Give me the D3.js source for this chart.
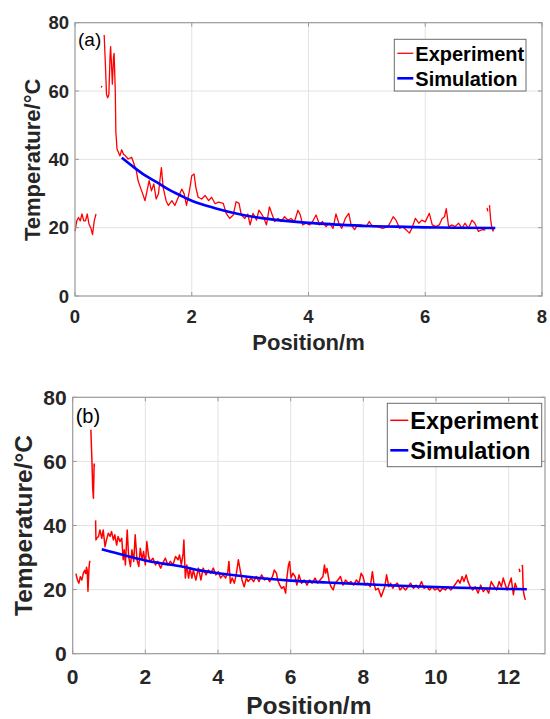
<!DOCTYPE html>
<html lang="en">
<head>
<meta charset="UTF-8">
<title>Temperature vs position</title>
<style>
  body { margin: 0; background: #fff; }
  svg { display: block; }
  .tick-label { font-family: "Liberation Sans", Arial, sans-serif; font-weight: bold; fill: #262626; }
  .axis-title { font-family: "Liberation Sans", Arial, sans-serif; font-weight: bold; fill: #262626; }
  .panel-tag { font-family: "Liberation Sans", Arial, sans-serif; fill: #000; }
  .legend-text { font-family: "Liberation Sans", Arial, sans-serif; font-weight: bold; fill: #000; }
</style>
</head>
<body>
<div id="chart"></div>
<script src="https://d3js.org/d3.v7.min.js"></script>
<script>
// ---- data ----
const yTicks = [0, 20, 40, 60, 80];
const xTicksA = [0, 2, 4, 6, 8];
const xTicksB = [0, 2, 4, 6, 8, 10, 12];
const seriesNames = ["Experiment", "Simulation"];

// panel (a) experiment, null = gap in the record
const expAx = [0, 0.03, 0.06, 0.09, 0.12, 0.15, 0.18, 0.21, 0.24, 0.27, 0.30, 0.33, 0.36, 0.40,
  0.45, 0.46, 0.48,
  0.50, 0.52, 0.54, 0.56, 0.58, 0.60, 0.61, 0.63, 0.64, 0.66, 0.67, 0.69, 0.70, 0.72, 0.74, 0.77, 0.80, 0.83, 0.86, 0.91, 0.97,
  1.01, 1.05, 1.08, 1.12, 1.16, 1.20, 1.24, 1.27, 1.31, 1.35, 1.39, 1.43, 1.46, 1.48, 1.51, 1.56, 1.60, 1.66, 1.71, 1.77,
  1.83, 1.87, 1.91, 1.96, 2.00, 2.04, 2.07, 2.11, 2.17, 2.23, 2.29, 2.34, 2.40, 2.46,
  2.54, 2.59, 2.65, 2.71, 2.76, 2.81, 2.85, 2.91, 2.96, 3.00, 3.05, 3.11, 3.15, 3.19, 3.24, 3.28, 3.33, 3.38, 3.42, 3.48,
  3.53, 3.59, 3.65, 3.70, 3.76, 3.82, 3.86, 3.90, 3.96, 4.02, 4.07, 4.13, 4.19, 4.24, 4.30, 4.36, 4.42, 4.47, 4.52, 4.57,
  4.63, 4.69, 4.73, 4.79, 4.84, 4.90, 4.99, 5.04, 5.10, 5.18,
  5.27, 5.36, 5.41, 5.45, 5.50, 5.56, 5.61, 5.67, 5.73, 5.77, 5.83, 5.89, 5.94, 6.00, 6.07, 6.12, 6.18, 6.24, 6.29, 6.33,
  6.36, 6.40, 6.46, 6.51, 6.57, 6.63, 6.68, 6.74, 6.80, 6.85, 6.91, 6.97, 7.03, 7.05,
  7.06, 7.07, 7.08, 7.10, 7.12, 7.14, 7.16, 7.18];
const expAt = [19, 22, 23, 22, 24, 22, 22, 24, 21, 20, 18, 22, 24, null,
  61, 61.5, null,
  76.4, 68, 59, 58, 59, 70, 73, 66, 62, 70, 71, 60, 48, 43, 42.2, 41, 42.8, 41.5, 41.1, 40.1, 40.6,
  38.7, 36.7, 33.8, 31.8, 29.9, 27.9, 31.3, 33.8, 30.8, 32.8, 28.4, 29.9, 34.7, 37.6, 31.8, 27.9, 26.5, 27.9, 26.5, 28.9,
  31.3, 29.9, 26.5, 30.8, 35.2, 35.7, 31.8, 28.9, 28.4, 29.4, 27.9, 28.9, 27.0, 27.5,
  27.1, 24.2, 22.7, 23.7, 27.6, 27.1, 23.7, 22.7, 24.0, 20.8, 24.2, 22.2, 25.1, 24.2, 22.7, 20.8, 26.1, 23.7, 21.8, 22.7,
  21.8, 23.2, 22.2, 22.7, 21.8, 25.1, 23.7, 20.8, 21.3, 20.8, 21.8, 23.7, 20.8, 21.8, 20.3, 21.3, 19.8, 24.0, 21.3, 19.8,
  22.7, 24.2, 20.8, 19.4, 20.8, 20.8, 20.3, 21.8, 20.3, 20.3,
  19.8, 20.3, 21.8, 23.2, 22.2, 19.8, 20.3, 19.4, 18.4, 19.8, 22.7, 21.3, 22.2, 21.7, 24.2, 20.8, 20.3, 20.8, 22.7, 23.2,
  25.6, 20.3, 20.8, 20.3, 21.3, 19.8, 21.3, 19.8, 22.2, 21.3, 18.9, 19.4, 19.4, null,
  25.8, 24.8, null, 26.6, 22.5, 20.0, 19.0, 20.2];

const simAx = [0.8, 1.0, 1.2, 1.4, 1.6, 1.8, 2.0, 2.4, 2.8, 3.2, 3.6, 4.0, 4.5, 5.0, 5.5, 6.0, 6.5, 7.2];
const simAt = [40.5, 37.8, 35.3, 33.3, 31.2, 29.5, 27.9, 25.7, 24.0, 22.8, 22.0, 21.4, 20.9, 20.5, 20.3, 20.1, 20.0, 19.9];

// panel (b) experiment
const expBx = [0.09, 0.13, 0.17, 0.21, 0.25, 0.29, 0.33, 0.36, 0.38, 0.40, 0.42, 0.45, 0.47, 0.48,
  0.50, 0.53, 0.55, 0.57, 0.59, 0.60, 0.61,
  0.63, 0.64, 0.66, 0.71, 0.75, 0.80, 0.84, 0.89, 0.93, 0.98, 1.03, 1.07, 1.12, 1.16, 1.21, 1.25, 1.30, 1.35, 1.39, 1.42,
  1.45, 1.50, 1.54, 1.59, 1.63, 1.68, 1.72, 1.77, 1.82, 1.86, 1.91, 1.95, 2.00, 2.04, 2.09, 2.13, 2.21, 2.28, 2.34, 2.42,
  2.48, 2.55, 2.62, 2.69, 2.76, 2.83, 2.90, 2.94, 2.99, 3.04, 3.06, 3.10, 3.14, 3.19, 3.23, 3.28, 3.32, 3.39, 3.46, 3.53,
  3.59, 3.67, 3.74, 3.80, 3.87, 3.94, 4.01, 4.07, 4.14, 4.21,
  4.27, 4.30, 4.34, 4.39, 4.45, 4.50, 4.56, 4.61, 4.66, 4.72, 4.78, 4.83, 4.91, 4.98, 5.05, 5.13, 5.20, 5.28, 5.36, 5.42,
  5.50, 5.55, 5.61, 5.64, 5.70, 5.75, 5.81, 5.86, 5.90, 5.94, 5.97, 6.01, 6.06, 6.12, 6.17, 6.23, 6.30, 6.37, 6.45, 6.52,
  6.59, 6.67, 6.74, 6.81, 6.89, 6.93, 6.96, 7.00, 7.06, 7.11, 7.17, 7.22, 7.30, 7.37, 7.44, 7.51, 7.59, 7.66, 7.73, 7.81,
  7.88, 7.94, 7.99, 8.05, 8.12, 8.19, 8.25, 8.29, 8.34, 8.41, 8.49,
  8.59, 8.64, 8.70, 8.75, 8.81, 8.86, 8.94, 9.01, 9.08, 9.16, 9.23, 9.30, 9.38, 9.45, 9.52, 9.60, 9.67, 9.75, 9.82, 9.89,
  9.97, 10.04, 10.11, 10.18, 10.26, 10.33, 10.41, 10.48, 10.55, 10.61, 10.66, 10.72, 10.77, 10.83, 10.88, 10.94, 11.01,
  11.08, 11.16, 11.23, 11.30, 11.38, 11.45, 11.52, 11.60, 11.67, 11.74, 11.80, 11.85, 11.91, 11.96, 12.02, 12.07, 12.13,
  12.18, 12.24, 12.27, 12.29, 12.31, 12.33, 12.36, 12.38, 12.40, 12.43, 12.46];
const expBt = [25, 23, 22, 24, 23, 25, 26, 25, 27, 26, 19.5, 27, 29, null,
  69.9, 60, 52, 48.5, 59.2, 58.4, null,
  41.6, 35.5, 36.0, 36.6, 38.6, 36.0, 38.6, 33.4, 35.5, 37.6, 36.6, 38.1, 35.5, 37.1, 33.9, 36.6, 35.0, 36.0, 29.3, 32.4,
  27.7, 38.6, 30.3, 27.2, 32.4, 28.8, 37.1, 29.3, 27.2, 32.9, 29.3, 31.9, 27.7, 35.0, 30.3, 28.8, 29.8, 27.7, 28.8, 26.7,
  28.3, 29.8, 27.7, 28.8, 27.7, 30.3, 29.3, 30.8, 27.7, 31.3, 35.5, 23.6, 27.7, 23.6, 26.7, 23.6, 26.1, 23.0, 26.7, 23.0,
  26.7, 24.6, 26.1, 25.1, 26.7, 24.6, 25.6, 23.6, 24.6, 23.6,
  25.6, 28.8, 22.0, 23.6, 22.0, 24.6, 29.3, 26.1, 23.0, 20.9, 23.6, 22.5, 23.6, 22.5, 24.1, 22.5, 24.6, 23.0, 23.6, 22.5,
  24.1, 26.1, 25.1, 23.0, 21.4, 20.4, 20.9, 18.9, 24.1, 27.7, 28.8, 23.6, 25.1, 24.1, 21.4, 24.6, 22.0, 23.0, 21.4, 23.0,
  22.0, 23.6, 22.0, 23.0, 24.1, 27.7, 25.1, 26.6, 22.5, 20.9, 19.9, 22.0, 23.0, 24.1, 21.4, 23.0, 22.0, 22.5, 21.4, 23.0,
  22.0, 25.1, 24.1, 21.4, 22.0, 20.9, 25.6, 22.0, 19.9, 20.4, 17.8,
  20.9, 24.6, 20.9, 22.0, 20.4, 21.4, 22.0, 19.9, 20.9, 19.9, 20.9, 22.0, 20.4, 21.4, 20.4, 22.5, 20.4, 20.9, 19.9, 20.9,
  19.9, 20.4, 19.4, 20.4, 19.9, 20.9, 19.9, 20.9, 22.0, 23.0, 22.0, 24.1, 22.5, 24.6, 22.5, 20.9, 19.9,
  20.9, 18.9, 21.4, 19.4, 20.4, 18.9, 22.5, 20.9, 19.9, 22.5, 20.9, 23.6, 21.4, 19.9, 22.0, 23.6, 18.4,
  22.0, 19.9, null, 26.5, 25.5, null, 27.2, 27.5, 19.9, 18.0, 16.8];

const simBx = [0.8, 1.0, 1.5, 2.0, 2.5, 3.0, 3.5, 4.0, 5.0, 6.0, 7.0, 8.0, 9.0, 10.0, 11.0, 12.0, 12.5];
const simBt = [32.6, 32.0, 30.5, 29.1, 28.1, 27.2, 26.0, 25.1, 23.8, 22.8, 22.2, 21.7, 21.2, 20.8, 20.5, 20.2, 20.1];

// ---- drawing ----
const svg = d3.select("#chart").append("svg")
  .attr("width", 550)
  .attr("height", 719);

function zip(xs, ts) {
  return xs.map((x, i) => ({x: x, t: ts[i]}));
}

function drawPanel(p) {
  const x = d3.scaleLinear().domain(p.xDomain).range([p.left, p.right]);
  const y = d3.scaleLinear().domain([0, 80]).range([p.bottom, p.top]);
  const g = svg.append("g");

  // grid (inner ticks only, box covers the edges)
  const gridX = p.xTicks.filter(v => v > p.xDomain[0] && v < p.xDomain[1]);
  g.selectAll(".gx").data(gridX)
    .enter().append("line")
    .attr("x1", d => x(d)).attr("x2", d => x(d))
    .attr("y1", p.top).attr("y2", p.bottom)
    .attr("stroke", "#e3e3e3").attr("stroke-width", 1);
  g.selectAll(".gy").data(yTicks.slice(1, -1))
    .enter().append("line")
    .attr("x1", p.left).attr("x2", p.right)
    .attr("y1", d => y(d)).attr("y2", d => y(d))
    .attr("stroke", "#e3e3e3").attr("stroke-width", 1);

  // data lines
  const line = d3.line()
    .defined(d => d.t !== null)
    .x(d => x(d.x)).y(d => y(d.t));

  g.append("path")
    .datum(zip(p.expX, p.expT))
    .attr("d", line)
    .attr("fill", "none")
    .attr("stroke", "#ff0000")
    .attr("stroke-width", p.expWidth)
    .attr("stroke-linejoin", "round");

  g.append("path")
    .datum(zip(p.simX, p.simT))
    .attr("d", line.curve(d3.curveMonotoneX))
    .attr("fill", "none")
    .attr("stroke", "#0000ff")
    .attr("stroke-width", 2.6);

  // box
  g.append("rect")
    .attr("x", p.left).attr("y", p.top)
    .attr("width", p.right - p.left).attr("height", p.bottom - p.top)
    .attr("fill", "none").attr("stroke", "#9a9a9a").attr("stroke-width", 1.2);

  // inward ticks on all sides
  const tl = 4;
  p.xTicks.forEach(v => {
    g.append("line").attr("x1", x(v)).attr("x2", x(v)).attr("y1", p.bottom).attr("y2", p.bottom - tl).attr("stroke", "#9a9a9a");
    g.append("line").attr("x1", x(v)).attr("x2", x(v)).attr("y1", p.top).attr("y2", p.top + tl).attr("stroke", "#9a9a9a");
  });
  yTicks.forEach(v => {
    g.append("line").attr("x1", p.left).attr("x2", p.left + tl).attr("y1", y(v)).attr("y2", y(v)).attr("stroke", "#9a9a9a");
    g.append("line").attr("x1", p.right).attr("x2", p.right - tl).attr("y1", y(v)).attr("y2", y(v)).attr("stroke", "#9a9a9a");
  });

  // tick labels
  g.selectAll(".xl").data(p.xTicks).enter().append("text")
    .attr("class", "tick-label")
    .attr("x", d => x(d)).attr("y", p.bottom + p.xLabelOff)
    .attr("text-anchor", "middle")
    .style("font-size", p.tickSize + "px")
    .text(d => d);
  g.selectAll(".yl").data(yTicks).enter().append("text")
    .attr("class", "tick-label")
    .attr("x", p.left - 6).attr("y", d => y(d))
    .attr("dy", "0.36em")
    .attr("text-anchor", "end")
    .style("font-size", p.tickSize + "px")
    .text(d => d);

  // axis titles
  g.append("text")
    .attr("class", "axis-title")
    .attr("x", (p.left + p.right) / 2).attr("y", p.xTitleY)
    .attr("text-anchor", "middle")
    .style("font-size", p.titleSize + "px")
    .text("Position/m");
  g.append("text")
    .attr("class", "axis-title")
    .attr("transform", `translate(${p.yTitleX},${(p.top + p.bottom) / 2 + p.yTitleShift}) rotate(-90)`)
    .attr("text-anchor", "middle")
    .style("font-size", p.titleSize + "px")
    .text("Temperature/\u00B0C");

  // panel tag
  g.append("text")
    .attr("class", "panel-tag")
    .attr("x", p.left + 3).attr("y", p.tagY)
    .style("font-size", p.tagSize + "px")
    .text(p.tag);

  // legend
  const lg = p.legend;
  g.append("rect")
    .attr("x", lg.x).attr("y", lg.y).attr("width", lg.w).attr("height", lg.h)
    .attr("fill", "#fff").attr("stroke", "#6b6b6b").attr("stroke-width", 1);
  const colors = ["#ff0000", "#0000ff"];
  const widths = [p.expWidth, 2.6];
  seriesNames.forEach((name, i) => {
    const cy = lg.y + lg.rowTop + i * lg.rowGap;
    g.append("line")
      .attr("x1", lg.x + 3).attr("x2", lg.x + 3 + lg.sample)
      .attr("y1", cy).attr("y2", cy)
      .attr("stroke", colors[i]).attr("stroke-width", widths[i]);
    g.append("text")
      .attr("class", "legend-text")
      .attr("x", lg.x + 5 + lg.sample).attr("y", cy)
      .attr("dy", "0.36em")
      .style("font-size", lg.size + "px")
      .text(name);
  });
}

drawPanel({
  tag: "(a)", xDomain: [0, 8], xTicks: xTicksA,
  left: 75, right: 542, top: 22.7, bottom: 296,
  expX: expAx, expT: expAt, simX: simAx, simT: simAt, expWidth: 1.3,
  tickSize: 18.5, xLabelOff: 27, titleSize: 22, xTitleY: 350,
  yTitleX: 39.5, yTitleShift: 0.5,
  tagSize: 19, tagY: 46,
  legend: {x: 394.3, y: 39.3, w: 131.7, h: 51.7, rowTop: 14, rowGap: 25, sample: 16, size: 20}
});

drawPanel({
  tag: "(b)", xDomain: [0, 13], xTicks: xTicksB,
  left: 72.7, right: 545, top: 397.3, bottom: 653.7,
  expX: expBx, expT: expBt, simX: simBx, simT: simBt, expWidth: 1.5,
  tickSize: 21, xLabelOff: 30.6, titleSize: 24.5, xTitleY: 714,
  yTitleX: 31.7, yTitleShift: 0,
  tagSize: 20, tagY: 423,
  legend: {x: 387.3, y: 403.3, w: 154.4, h: 63.4, rowTop: 17, rowGap: 30, sample: 18, size: 23.5}
});
</script>
</body>
</html>
